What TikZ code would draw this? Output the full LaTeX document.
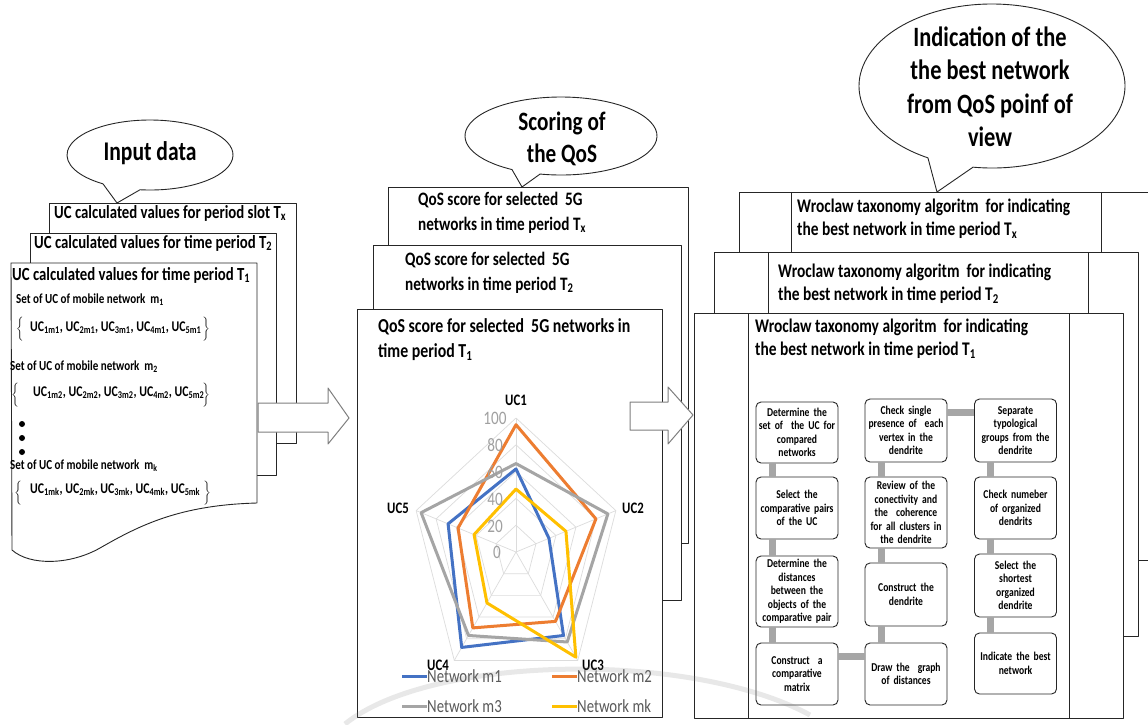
\documentclass[tikz,border=0pt]{standalone}
\usepackage{fontspec}
\setmainfont{Carlito}[FakeStretch=0.8]
\usetikzlibrary{calc}
\definecolor{cBlue}{HTML}{4472C4}
\definecolor{cOrange}{HTML}{ED7D31}
\definecolor{cGray}{HTML}{A5A5A5}
\definecolor{cYellow}{HTML}{FFC000}
\definecolor{barGray}{HTML}{A6A6A6}
\definecolor{gridGray}{HTML}{DCDCDC}
\definecolor{tickGray}{HTML}{A0A0A0}
\definecolor{legGray}{HTML}{595959}
\definecolor{arrGray}{HTML}{7F7F7F}
\newcommand{\sbs}[1]{\textsubscript{#1}}
\newcommand{\fs}[2]{\fontsize{#1}{#2}\selectfont}
\begin{document}
\begin{tikzpicture}[x=1pt,y=-1pt,line join=round,
  box/.style={draw=black!85,line width=0.9pt,fill=white},
  ttl/.style={font=\bfseries\fs{18.5}{22},anchor=west,inner sep=0pt},
  setl/.style={font=\bfseries\fs{13.8}{15},anchor=west,inner sep=0pt},
  ucl/.style={font=\bfseries\fs{14.8}{16},anchor=west,inner sep=0pt},
  brc/.style={font=\fs{11}{13},inner sep=0pt},
  mtxt/.style={font=\bfseries\fs{19}{25},anchor=west,align=left,inner sep=0pt},
  rtxt/.style={font=\bfseries\fs{19.3}{23},anchor=west,align=left,inner sep=0pt},
  ctxt/.style={align=center,inner sep=0pt},
  flow/.style={draw=black!85,line width=0.9pt,fill=white,rounded corners=5pt,
    minimum width=82pt,text width=80pt,inner sep=1pt,align=center,
    font=\bfseries\fs{12}{13.4}},
  bar/.style={draw=barGray,line width=7pt},
  blockarrow/.style={draw=arrGray,line width=1pt,fill=white},
  series/.style={line width=3pt,line join=round},
  tick/.style={font=\fs{19}{20},text=tickGray,inner sep=0pt},
  axl/.style={font=\bfseries\fs{16}{18},inner sep=0pt},
  leg/.style={font=\fs{18.5}{20},text=legGray,anchor=west,inner sep=0pt},
  dot/.style={circle,fill=black,inner sep=0pt,minimum size=6pt}]
\useasboundingbox (0,0) rectangle (1148,724);
\fill[white] (0,0) rectangle (1148,724);

% ---------------- left stack ----------------
\node[box,anchor=north west,minimum width=247pt,minimum height=240pt,inner sep=0pt] (LTx) at (49,203) {};
\node[box,anchor=north west,minimum width=246pt,minimum height=242pt,inner sep=0pt] (LT2) at (30,233) {};
\draw[box] (11,263) -- (257,263) -- (257,503)
  .. controls (180,505) and (140,525) .. (100,548)
  .. controls (70,565) and (30,566) .. (12,550) -- cycle;
\node[ttl] (LTxT) at (54,213) {UC calculated values for period slot T\sbs{x}};
\node[ttl] (LT2T) at (34,243) {UC calculated values for time period T\sbs{2}};
\node[ttl] (LT1T) at (12,275) {UC calculated values for time period T\sbs{1}};
\node[setl] (S1) at (16,300) {Set of UC of mobile network \ m\sbs{1}};
\node[ucl] (U1) at (30,328) {UC\sbs{1m1}, UC\sbs{2m1}, UC\sbs{3m1}, UC\sbs{4m1}, UC\sbs{5m1}};
\node[brc] (U1a) at (20,329) {$\bigg\{$};
\node[brc] (U1b) at (206,329) {$\bigg\}$};
\node[setl] (S2) at (10,367) {Set of UC of mobile network \ m\sbs{2}};
\node[ucl] (U2) at (33,393) {UC\sbs{1m2}, UC\sbs{2m2}, UC\sbs{3m2}, UC\sbs{4m2}, UC\sbs{5m2}};
\node[brc] (U2a) at (15,395) {$\bigg\{$};
\node[brc] (U2b) at (206,395) {$\bigg\}$};
\node[dot] (d1) at (22,424) {};
\node[dot] (d2) at (22,438) {};
\node[dot] (d3) at (22,452) {};
\node[setl] (S3) at (10,466) {Set of UC of mobile network \ m\sbs{k}};
\node[ucl] (U3) at (30,490) {UC\sbs{1mk}, UC\sbs{2mk}, UC\sbs{3mk}, UC\sbs{4mk}, UC\sbs{5mk}};
\node[brc] (U3a) at (18,493) {$\bigg\{$};
\node[brc] (U3b) at (207,493) {$\bigg\}$};

% callout input
\draw[box] (117,203) -- ($(150,155)+(96.9:83 and 35)$)
  arc[start angle=96.9,end angle=-235.5,x radius=83,y radius=35] -- cycle;
\node[ctxt,font=\bfseries\fs{27}{30}] (CIn) at (150,153) {Input data};

% ---------------- middle stack ----------------
\node[box,anchor=north west,minimum width=300pt,minimum height=356pt,inner sep=0pt] (MTx) at (388,187) {};
\node[box,anchor=north west,minimum width=308pt,minimum height=355pt,inner sep=0pt] (MT2) at (373,245) {};
\node[box,anchor=north west,minimum width=305pt,minimum height=408pt,inner sep=0pt] (MT1) at (357,309) {};
\node[mtxt] (MTxT) at (418,212.5) {QoS score for selected \ 5G\\networks in time period T\sbs{x}};
\node[mtxt] (MT2T) at (405,272.5) {QoS score for selected \ 5G\\networks in time period T\sbs{2}};
\node[mtxt,font=\bfseries\fs{19.8}{25}] (MT1T) at (378,339.5) {QoS score for selected \ 5G networks in\\time period T\sbs{1}};

% callout scoring
\draw[box] (522,187) -- ($(561,136)+(102.6:96 and 39)$)
  arc[start angle=102.6,end angle=-239.3,x radius=96,y radius=39] -- cycle;
\node[ctxt,font=\bfseries\fs{26.5}{32}] (CSc) at (562,139) {Scoring of\\the QoS};

% radar chart
\begin{scope}[shift={(516,552)}]
\begin{scope}[x=1.05pt,y=-1.34pt]
  \foreach \r in {20,40,60,80,100}
    \draw[gridGray,line width=0.7pt] (-90:\r) -- (-18:\r) -- (54:\r) -- (126:\r) -- (198:\r) -- cycle;
  \foreach \a in {-90,-18,54,126,198}
    \draw[gridGray,line width=0.7pt] (0,0) -- (\a:100);
  \draw[series,cBlue]   (-90:62) -- (-18:33) -- (54:77) -- (126:88) -- (198:68) -- cycle;
  \draw[series,cOrange] (-90:95) -- (-18:80) -- (54:64) -- (126:70) -- (198:58) -- cycle;
  \draw[series,cGray]   (-90:66) -- (-18:92) -- (54:83) -- (126:77) -- (198:95) -- cycle;
  \draw[series,cYellow] (-90:47) -- (-18:50) -- (54:97) -- (126:47) -- (198:42) -- cycle;
\end{scope}
\end{scope}
\node[tick] (k100) at (495,418) {100};
\node[tick] (k80) at (495,445) {80};
\node[tick] (k60) at (495,472) {60};
\node[tick] (k40) at (495,499) {40};
\node[tick] (k20) at (495,526) {20};
\node[tick] (k0) at (497,552) {0};
\node[axl] (A1) at (516,400) {UC1};
\node[axl] (A2) at (633,508) {UC2};
\node[axl] (A5) at (398,508) {UC5};
\node[axl] (A4) at (438,665) {UC4};
\node[axl] (A3) at (593,665) {UC3};
\node[leg] (L1) at (427,676) {Network m1};
\node[leg] (L2) at (577,676) {Network m2};
\node[leg] (L3) at (427,706) {Network m3};
\node[leg] (L4) at (577,706) {Network mk};
\draw[cBlue,line width=3pt] (L1.west) -- ++(-25,0);
\draw[cOrange,line width=3pt] (L2.west) -- ++(-25,0);
\draw[cGray,line width=3pt] (L3.west) -- ++(-25,0);
\draw[cYellow,line width=3pt] (L4.west) -- ++(-25,0);

% ---------------- right stack ----------------
\draw[box] (739,192) rectangle (1160,560);
\draw[black!85,line width=0.9pt] (791,192) -- (791,560) (1101,192) -- (1101,560);
\draw[box] (714,252) rectangle (1138,636);
\draw[black!85,line width=0.9pt] (768,252) -- (768,636) (1088,252) -- (1088,636);
\draw[box] (694,313) rectangle (1123,718);
\draw[black!85,line width=0.9pt] (748,313) -- (748,718) (1069,313) -- (1069,718);
\node[rtxt] (RTxT) at (797,218.5) {Wroclaw taxonomy algoritm \ for indicating\\the best network in time period T\sbs{x}};
\node[rtxt] (RT2T) at (778,283.5) {Wroclaw taxonomy algoritm \ for indicating\\the best network in time period T\sbs{2}};
\node[rtxt] (RT1T) at (755,339) {Wroclaw taxonomy algoritm \ for indicating\\the best network in time period T\sbs{1}};

% callout indication
\draw[box] (937,192) -- ($(992,86)+(98.2:133 and 82)$)
  arc[start angle=98.2,end angle=-241.2,x radius=133,y radius=82] -- cycle;
\node[ctxt,font=\bfseries\fs{28}{33.5}] (CInd) at (990,87) {Indication of the\\the best network\\from QoS poinf of\\view};

% flow chart
\node[flow,minimum height=61pt] (B1) at (797,432.5) {Determine the\\set of \ the UC for\\compared\\networks};
\node[flow,minimum height=62pt] (B2) at (797,508) {Select the\\comparative pairs\\of the UC};
\node[flow,minimum height=71pt] (B3) at (797,591.5) {Determine the\\distances\\between the\\objects of the\\comparative pair};
\node[flow,minimum height=62pt] (B4) at (797,674) {Construct \ a\\comparative\\matrix};
\node[flow,minimum height=63pt] (C1) at (906,430.5) {Check single\\presence of \ each\\vertex in the\\dendrite};
\node[flow,minimum height=71pt] (C2) at (906,512.5) {Review of the\\conectivity and\\the \ coherence\\for all clusters in\\the dendrite};
\node[flow,minimum height=63pt] (C3) at (906,594.5) {Construct the\\dendrite};
\node[flow,minimum height=62pt] (C4) at (906,674) {Draw the \ graph\\of distances};
\node[flow,minimum height=63pt,minimum width=81pt] (D1) at (1015.5,430.5) {Separate\\typological\\groups from the\\dendrite};
\node[flow,minimum height=62pt,minimum width=81pt] (D2) at (1015.5,508) {Check numeber\\of organized\\dendrits};
\node[flow,minimum height=63pt,minimum width=81pt] (D3) at (1015.5,585.5) {Select the\\shortest\\organized\\dendrite};
\node[flow,minimum height=61pt,minimum width=81pt] (D4) at (1015.5,663.5) {Indicate the best\\network};
\draw[bar] ([xshift=17pt]B1.south west) -- ([xshift=17pt]B2.north west);
\draw[bar] ([xshift=17pt]B2.south west) -- ([xshift=17pt]B3.north west);
\draw[bar] ([xshift=17pt]B3.south west) -- ([xshift=17pt]B4.north west);
\draw[bar] ([yshift=-14pt]B4.north east) -- ([yshift=-14pt]C4.north west);
\draw[bar] ([xshift=17pt]C4.north west) -- ([xshift=17pt]C3.south west);
\draw[bar] ([xshift=17pt]C3.north west) -- ([xshift=17pt]C2.south west);
\draw[bar] ([xshift=17pt]C2.north west) -- ([xshift=17pt]C1.south west);
\draw[bar] ([yshift=-14pt]C1.north east) -- ([yshift=-14pt]D1.north west);
\draw[bar] ([xshift=16pt]D1.south west) -- ([xshift=16pt]D2.north west);
\draw[bar] ([xshift=16pt]D2.south west) -- ([xshift=16pt]D3.north west);
\draw[bar] ([xshift=16pt]D3.south west) -- ([xshift=16pt]D4.north west);

% block arrows
\draw[blockarrow] (258,403) -- (328,403) -- (328,388) -- (349,418) -- (328,444) -- (328,432) -- (258,432) -- cycle;
\draw[blockarrow] (630,402) -- (668,402) -- (668,387) -- (693,415) -- (668,444) -- (668,430) -- (630,430) -- cycle;

% faint watermark arc
\draw[gray,opacity=0.18,line width=5pt] (345,724) .. controls (430,655) and (690,650) .. (810,715);
\end{tikzpicture}
\end{document}
